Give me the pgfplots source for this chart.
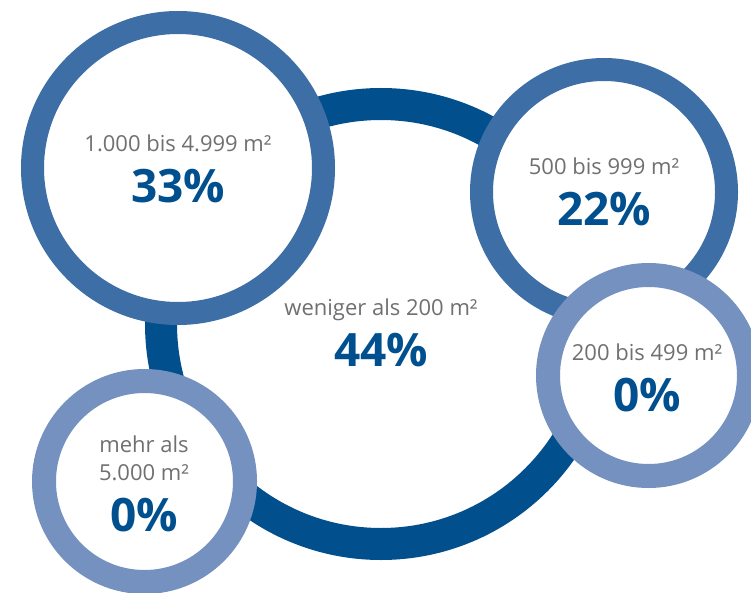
\documentclass[border=0pt]{standalone}
\usepackage{pgfplots}
\pgfplotsset{compat=1.18}
\usepackage{fontspec}
\setmainfont{Open Sans}
\definecolor{ringdark}{HTML}{024F8D}
\definecolor{ringmid}{HTML}{3D6FA6}
\definecolor{ringlight}{HTML}{7591BF}
\definecolor{lbl}{HTML}{707070}
\definecolor{pct}{HTML}{004F8E}
\newcommand{\lab}[1]{{\fontsize{22}{26}\selectfont\color{lbl}#1}}
\newcommand{\pc}[1]{{\fontsize{46}{50}\selectfont\bfseries\color{pct}#1}}
\begin{document}
\begin{tikzpicture}
\begin{axis}[
  x=1pt, y=1pt, y dir=reverse,
  xmin=0, xmax=751, ymin=0, ymax=593,
  hide axis, clip=true, clip marker paths=true,
]
% big ring: outer radius 236, thickness 32
\addplot[only marks, mark=*, mark size=220, mark options={draw=ringdark, fill=white, line width=32pt}] coordinates {(381,324)};
% 1.000 bis 4.999: outer radius 157, thickness 23
\addplot[only marks, mark=*, mark size=145.5, mark options={draw=ringmid, fill=white, line width=23pt}] coordinates {(178,168)};
% 500 bis 999
\addplot[only marks, mark=*, mark size=122.5, mark options={draw=ringmid, fill=white, line width=23pt}] coordinates {(604,192)};
% mehr als 5.000
\addplot[only marks, mark=*, mark size=100.5, mark options={draw=ringlight, fill=white, line width=24pt}] coordinates {(144.5,481.5)};
% 200 bis 499
\addplot[only marks, mark=*, mark size=100.5, mark options={draw=ringlight, fill=white, line width=24pt}] coordinates {(648.5,375.5)};

\node[anchor=base] at (axis cs:178,152) {\lab{1.000 bis 4.999 m²}};
\node[anchor=base] at (axis cs:178,203) {\pc{33\%}};
\node[anchor=base] at (axis cs:604,175) {\lab{500 bis 999 m²}};
\node[anchor=base] at (axis cs:604,226) {\pc{22\%}};
\node[anchor=base] at (axis cs:381,315) {\lab{weniger als 200 m²}};
\node[anchor=base] at (axis cs:381,366) {\pc{44\%}};
\node[anchor=base] at (axis cs:647,360) {\lab{200 bis 499 m²}};
\node[anchor=base] at (axis cs:647,411) {\pc{0\%}};
\node[anchor=base] at (axis cs:144,452) {\lab{mehr als}};
\node[anchor=base] at (axis cs:144,480) {\lab{5.000 m²}};
\node[anchor=base] at (axis cs:144,531) {\pc{0\%}};
\end{axis}
\pgfresetboundingbox
\useasboundingbox (current axis.south west) rectangle (current axis.north east);
\end{tikzpicture}
\end{document}
